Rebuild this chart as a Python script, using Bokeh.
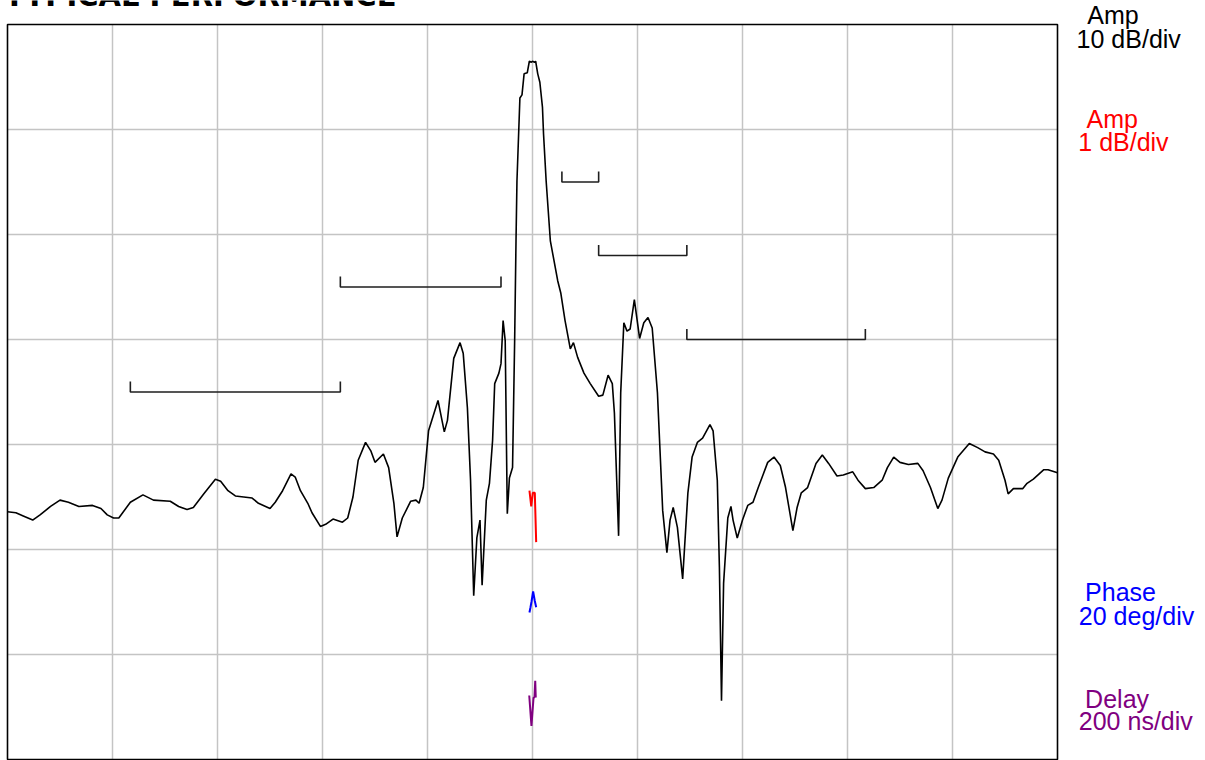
from bokeh.plotting import figure
from bokeh.models import Range1d, FixedTicker, Label, Grid
from bokeh.embed import file_html
from bokeh.resources import INLINE

# Frequency offset in divisions, amplitude in dB (10 dB/div, top = 0 dB)
freq_div = [-5.00, -4.92, -4.85, -4.76, -4.69, -4.59, -4.50, -4.42, -4.32, -4.19,
            -4.11, -4.05, -3.99, -3.94, -3.83, -3.71, -3.61, -3.45, -3.37, -3.29,
            -3.23, -3.13, -3.02, -2.97, -2.90, -2.83, -2.75, -2.67, -2.61, -2.50,
            -2.45, -2.38, -2.30, -2.26, -2.21, -2.14, -2.10, -2.02, -1.97, -1.90,
            -1.81, -1.76, -1.71, -1.66, -1.59, -1.54, -1.50, -1.42, -1.37, -1.32,
            -1.29, -1.24, -1.16, -1.11, -1.08, -1.04, -0.99, -0.90, -0.84, -0.81,
            -0.75, -0.69, -0.66, -0.62, -0.59, -0.56, -0.53, -0.50, -0.48, -0.44,
            -0.41, -0.38, -0.36, -0.32, -0.30, -0.28, -0.26, -0.24, -0.22, -0.19,
            -0.17, -0.157, -0.148, -0.12, -0.10, -0.08, -0.05, -0.03, -0.01, 0.00,
            0.02, 0.03, 0.05, 0.07, 0.095, 0.105, 0.13, 0.17, 0.24, 0.27,
            0.31, 0.36, 0.39, 0.43, 0.49, 0.55, 0.63, 0.67, 0.72, 0.76,
            0.78, 0.82, 0.84, 0.87, 0.90, 0.93, 0.97, 1.02, 1.06, 1.10,
            1.14, 1.19, 1.24, 1.28, 1.31, 1.34, 1.38, 1.43, 1.48, 1.52,
            1.57, 1.62, 1.69, 1.72, 1.76, 1.78, 1.80, 1.82, 1.86, 1.89,
            1.91, 1.95, 2.00, 2.05, 2.10, 2.15, 2.24, 2.30, 2.36, 2.41,
            2.48, 2.52, 2.56, 2.62, 2.70, 2.76, 2.82, 2.90, 2.96, 3.05,
            3.10, 3.17, 3.25, 3.33, 3.38, 3.44, 3.50, 3.58, 3.67, 3.72,
            3.79, 3.86, 3.90, 3.96, 4.05, 4.16, 4.24, 4.31, 4.39, 4.44,
            4.50, 4.53, 4.58, 4.67, 4.71, 4.77, 4.87, 4.91, 5.00]
amp_db = [-46.4, -46.5, -46.8, -47.2, -46.7, -45.9, -45.3, -45.5, -45.9, -45.8,
          -46.1, -46.7, -47.0, -47.0, -45.5, -44.8, -45.3, -45.4, -45.9, -46.2,
          -46.0, -44.7, -43.3, -43.5, -44.4, -44.9, -45.0, -45.1, -45.6, -46.1,
          -45.5, -44.4, -42.8, -43.1, -44.4, -45.6, -46.5, -47.8, -47.6, -47.1,
          -47.4, -47.0, -45.0, -41.5, -39.8, -40.6, -41.7, -40.9, -42.2, -45.6,
          -48.8, -47.0, -45.4, -45.3, -45.6, -44.1, -38.7, -35.8, -38.8, -37.7,
          -31.8, -30.3, -31.3, -36.5, -43.4, -54.4, -48.9, -47.2, -53.4, -45.3,
          -43.7, -39.6, -34.2, -33.2, -32.3, -28.2, -30.1, -46.6, -43.2, -42.2,
          -30.1, -20.6, -14.9, -7.0, -6.7, -4.7, -4.6, -3.5, -3.6, -3.5,
          -3.6, -3.5, -4.7, -5.5, -7.9, -10.4, -14.9, -20.6, -24.4, -25.6,
          -28.2, -30.9, -30.3, -31.7, -33.2, -34.2, -35.4, -35.3, -33.4, -34.2,
          -37.0, -48.7, -35.1, -28.4, -29.2, -29.0, -26.2, -29.9, -28.4, -27.9,
          -28.9, -35.1, -46.3, -50.3, -47.2, -46.0, -47.9, -52.8, -44.6, -41.2,
          -39.8, -39.4, -38.1, -38.7, -43.4, -51.7, -64.4, -53.2, -47.0, -45.9,
          -47.2, -48.9, -47.2, -45.8, -45.5, -44.1, -41.7, -41.2, -42.0, -44.1,
          -48.2, -46.0, -44.6, -44.1, -41.8, -41.0, -41.8, -43.0, -42.9, -42.6,
          -43.4, -44.2, -44.1, -43.4, -42.2, -41.2, -41.7, -41.9, -41.8, -42.5,
          -44.1, -46.1, -45.3, -43.2, -41.2, -39.9, -40.3, -40.7, -40.9, -41.5,
          -43.4, -44.7, -44.2, -44.2, -43.7, -43.3, -42.4, -42.4, -42.7]

# Rejection mask segments
mask_start = [-3.83, -1.83, 0.28, 0.63, 1.47]
mask_stop = [-1.83, -0.30, 0.63, 1.47, 3.17]
mask_level = [-35.0, -25.0, -15.0, -22.0, -30.0]

# Short traces at centre (plotted on the same screen grid)
amp_fine_x = [-0.029, -0.012, 0.003, 0.022, 0.035]
amp_fine_y = [-44.4, -45.9, -44.6, -44.6, -49.3]
phase_x = [-0.029, -0.019, -0.010, 0.006, 0.022, 0.035]
phase_y = [-56.0, -55.5, -55.0, -54.0, -54.9, -55.5]
delay_x = [-0.031, -0.010, 0.010, 0.019, 0.026, 0.031]
delay_y = [-63.9, -66.8, -64.1, -64.1, -62.5, -64.1]

x_ticks = [-4, -3, -2, -1, 0, 1, 2, 3, 4]
y_ticks = [-60, -50, -40, -30, -20, -10]
X_LO, X_HI = -5, 5
Y_LO, Y_HI = -70, 0

# layout geometry (pixels)
W, H = 1205, 760
PX_DIV = 105.0
BOX_L, BOX_T = 7, 24
DB_PER_PX = 10.0 / PX_DIV

x_start = X_LO - BOX_L / PX_DIV
x_end = x_start + W / PX_DIV
y_end = Y_HI + BOX_T * DB_PER_PX
y_start = y_end - H * DB_PER_PX

p = figure(width=W, height=H, output_backend="svg", toolbar_location=None,
           x_range=Range1d(x_start, x_end), y_range=Range1d(y_start, y_end), title=None,
           min_border=0, x_axis_location=None, y_axis_location=None)
p.outline_line_color = None
p.background_fill_color = "white"
p.border_fill_color = "white"
p.grid.visible = False

has_cross = "cross_bounds" in Grid.properties()
if has_cross:
    g1 = Grid(dimension=0, ticker=FixedTicker(ticks=x_ticks), bounds=(X_LO, X_HI),
              cross_bounds=(Y_LO, Y_HI), grid_line_color="#c4c4c4", grid_line_width=1.5)
    g2 = Grid(dimension=1, ticker=FixedTicker(ticks=y_ticks), bounds=(Y_LO, Y_HI),
              cross_bounds=(X_LO, X_HI), grid_line_color="#c4c4c4", grid_line_width=1.5)
    p.add_layout(g1)
    p.add_layout(g2)
else:
    p.segment(x0=x_ticks, x1=x_ticks, y0=[Y_LO] * len(x_ticks), y1=[Y_HI] * len(x_ticks),
              line_color="#c4c4c4", line_width=1.5)
    p.segment(x0=[X_LO] * len(y_ticks), x1=[X_HI] * len(y_ticks), y0=y_ticks, y1=y_ticks,
              line_color="#c4c4c4", line_width=1.5)

# plot box border
p.quad(left=[X_LO], right=[X_HI], bottom=[Y_LO], top=[Y_HI], fill_color=None,
       line_color="black", line_width=1.6)

xs = [[a, a, b, b] for a, b in zip(mask_start, mask_stop)]
ys = [[l + 1, l, l, l + 1] for l in mask_level]
p.multi_line(xs, ys, line_color="#1e1e1e", line_width=1.6)

p.line(freq_div, amp_db, line_color="black", line_width=1.6)
p.line(amp_fine_x, amp_fine_y, line_color="red", line_width=2)
p.line(phase_x, phase_y, line_color="blue", line_width=2)
p.line(delay_x, delay_y, line_color="purple", line_width=2)

font = "Liberation Sans"
labels = [
    ("Amp", 5.283, 0.93, "black"),
    ("10 dB/div", 5.182, -1.40, "black"),
    ("Amp", 5.276, -8.98, "red"),
    ("1 dB/div", 5.198, -11.21, "red"),
    ("Phase", 5.263, -54.06, "blue"),
    ("20 deg/div", 5.203, -56.31, "blue"),
    ("Delay", 5.263, -64.22, "purple"),
    ("200 ns/div", 5.203, -66.38, "purple"),
]
for t, x, y, c in labels:
    p.add_layout(Label(x=x, y=y, text=t, text_color=c, text_font=font,
                       text_font_size="25px", text_baseline="alphabetic", text_align="left"))

p.add_layout(Label(x=-5.029, y=2.70, text="TYPICAL PERFORMANCE", text_color="black",
                   text_font="DejaVu Sans", text_font_style="bold", text_font_size="29px",
                   text_baseline="alphabetic", text_align="left"))

open("out.html", "w").write(file_html(p, INLINE))
